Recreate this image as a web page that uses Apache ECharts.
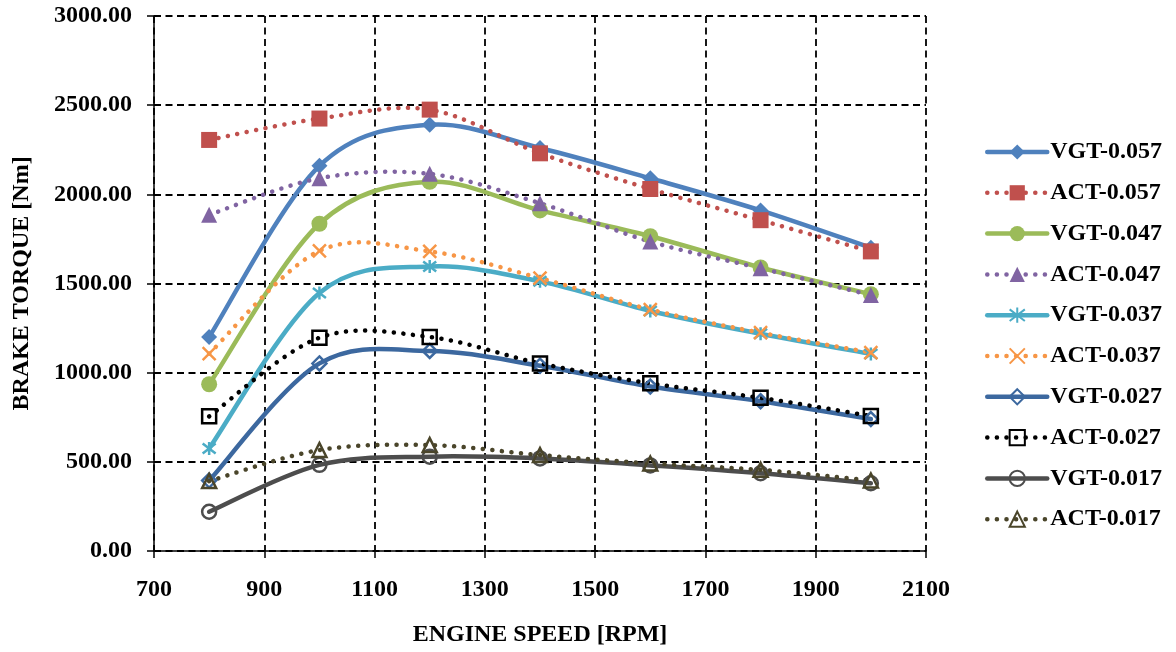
<!DOCTYPE html>
<html>
<head>
<meta charset="utf-8" />
<title>Brake torque</title>
<script src="https://cdn.jsdelivr.net/npm/echarts/dist/echarts.min.js"></script>
<style>
  html,
  body {
    margin: 0;
    padding: 0;
    background: #ffffff;
  }

  #chart {
    width: 1176px;
    height: 652px;
  }
</style>
</head>
<body>
<div id="chart"></div>
<script>
const speeds = [800, 1000, 1200, 1400, 1600, 1800, 2000];

const vgt057 = [1200, 2160, 2390, 2260, 2090, 1910, 1700];
const act057 = [2305, 2425, 2475, 2230, 2030, 1855, 1680];
const vgt047 = [935, 1835, 2070, 1910, 1765, 1590, 1440];
const act047 = [1885, 2090, 2115, 1950, 1735, 1585, 1435];
const vgt037 = [575, 1447, 1595, 1512, 1346, 1218, 1105];
const act037 = [1107, 1683, 1680, 1530, 1354, 1224, 1113];
const vgt027 = [395, 1052, 1122, 1039, 922, 840, 740];
const act027 = [755, 1196, 1200, 1052, 940, 859, 757];
const vgt017 = [220, 483, 529, 519, 480, 436, 380];
const act017 = [392, 566, 594, 538, 491, 455, 395];

const FONT = "'Liberation Serif', 'Times New Roman', serif";
const STAR = "path://M0,0L10,10M10,0L0,10M5,-1.5L5,11.5";
const CROSS = "path://M0,0L10,10M10,0L0,10";
const DOTS = [0.1, 9.5];

// 把两个数组拼成 [x, y]
const pairs = ys => speeds.map((x, i) => [x, ys[i]]);

// Excel 风格的平滑曲线（Catmull-Rom -> Bezier），坐标由 api.coord 换算
const curveSeries = (ys, color, dotted) => ({
  type: "custom",
  data: pairs(ys),
  silent: true,
  z: 2,
  renderItem: (params, api) => {
    if (params.dataIndex !== 0) return;
    const p = ys.map((y, i) => api.coord([speeds[i], y]));
    const n = p.length;
    let d = "M" + p[0][0] + "," + p[0][1];
    for (let i = 0; i < n - 1; i++) {
      const p0 = p[Math.max(i - 1, 0)];
      const p1 = p[i];
      const p2 = p[i + 1];
      const p3 = p[Math.min(i + 2, n - 1)];
      const c1x = p1[0] + (p2[0] - p0[0]) / 6;
      const c1y = p1[1] + (p2[1] - p0[1]) / 6;
      const c2x = p2[0] - (p3[0] - p1[0]) / 6;
      const c2y = p2[1] - (p3[1] - p1[1]) / 6;
      d += "C" + c1x + "," + c1y + "," + c2x + "," + c2y + "," + p2[0] + "," + p2[1];
    }
    return {
      type: "path",
      shape: { pathData: d },
      style: {
        fill: "none",
        stroke: color,
        lineWidth: 4.5,
        lineCap: "round",
        lineJoin: "round",
        lineDash: dotted ? DOTS : null
      }
    };
  }
});

// 点和图例用的折线系列（线本身透明）
const markSeries = (name, ys, color, dotted, symbol, size, hollow) => {
  let itemStyle;
  if (symbol === STAR || symbol === CROSS) {
    itemStyle = { color: "rgba(0,0,0,0)", borderColor: color, borderWidth: 2.5 };
  } else if (hollow) {
    itemStyle = { color: "rgba(255,255,255,0)", borderColor: color, borderWidth: 2.5 };
  } else {
    itemStyle = { color: color, borderWidth: 0 };
  }
  return {
    name,
    type: "line",
    data: pairs(ys),
    symbol,
    symbolSize: size,
    showAllSymbol: true,
    lineStyle: dotted
      ? { color, width: 4.5, type: DOTS, cap: "round", opacity: 0 }
      : { color, width: 4.5, cap: "round", opacity: 0 },
    itemStyle,
    emphasis: { disabled: true },
    z: 3
  };
};

const defs = [
  ["VGT-0.057", vgt057, "#4F81BD", false, "diamond", 16, false],
  ["ACT-0.057", act057, "#C0504D", true, "rect", 16, false],
  ["VGT-0.047", vgt047, "#9BBB59", false, "circle", 16, false],
  ["ACT-0.047", act047, "#8064A2", true, "triangle", 16, false],
  ["VGT-0.037", vgt037, "#4BACC6", false, STAR, 13, false],
  ["ACT-0.037", act037, "#F79646", true, CROSS, 13, false],
  ["VGT-0.027", vgt027, "#3C689F", false, "diamond", 14, true],
  ["ACT-0.027", act027, "#000000", true, "rect", 14, true],
  ["VGT-0.017", vgt017, "#4D4D4D", false, "circle", 14, true],
  ["ACT-0.017", act017, "#4A452A", true, "triangle", 14, true]
];

const seriesList = [];
defs.forEach(d => seriesList.push(curveSeries(d[1], d[2], d[3])));
defs.forEach(d => seriesList.push(markSeries(...d)));

const myChart = echarts.init(document.getElementById("chart"), null, { renderer: "canvas" });

const boldText = {
  fontFamily: FONT,
  fontWeight: "bold",
  fontSize: 24,
  color: "#000000"
};

let option = {
  animation: false,
  backgroundColor: "#ffffff",
  textStyle: { fontFamily: FONT },
  grid: {
    left: 154,
    right: 250,
    top: 16,
    bottom: 98
  },
  legend: {
    orient: "vertical",
    left: 985,
    top: 140,
    padding: 0,
    itemWidth: 60,
    itemHeight: 19,
    itemGap: 16.8,
    lineStyle: { width: 4.5, opacity: 1 },
    textStyle: Object.assign({}, boldText, { lineHeight: 24, padding: [0, 0, 0, -2] }),
    data: defs.map(d => d[0])
  },
  xAxis: {
    type: "value",
    min: 700,
    max: 2100,
    interval: 200,
    name: "ENGINE SPEED [RPM]",
    nameLocation: "middle",
    nameGap: 72,
    nameTextStyle: boldText,
    axisLine: { show: true, onZero: false, lineStyle: { color: "#000000", width: 1.5 } },
    axisTick: { show: true, inside: false, length: 7, lineStyle: { color: "#000000", width: 1.5 } },
    axisLabel: Object.assign({}, boldText, {
      margin: 27,
      formatter: v => String(v)
    }),
    splitLine: {
      show: true,
      lineStyle: { color: "#000000", width: 1.8, type: [7, 4.5] }
    }
  },
  yAxis: {
    type: "value",
    min: 0,
    max: 3000,
    interval: 500,
    name: "BRAKE TORQUE [Nm]",
    nameLocation: "middle",
    nameGap: 120,
    nameTextStyle: boldText,
    axisLine: { show: true, lineStyle: { color: "#000000", width: 1.5 } },
    axisTick: { show: true, inside: false, length: 7, lineStyle: { color: "#000000", width: 1.5 } },
    axisLabel: Object.assign({}, boldText, {
      margin: 22,
      formatter: v => v.toFixed(2)
    }),
    splitLine: {
      show: true,
      lineStyle: { color: "#000000", width: 1.8, type: [7, 4.5] }
    }
  },
  series: seriesList
};

myChart.setOption(option);
</script>
</body>
</html>
